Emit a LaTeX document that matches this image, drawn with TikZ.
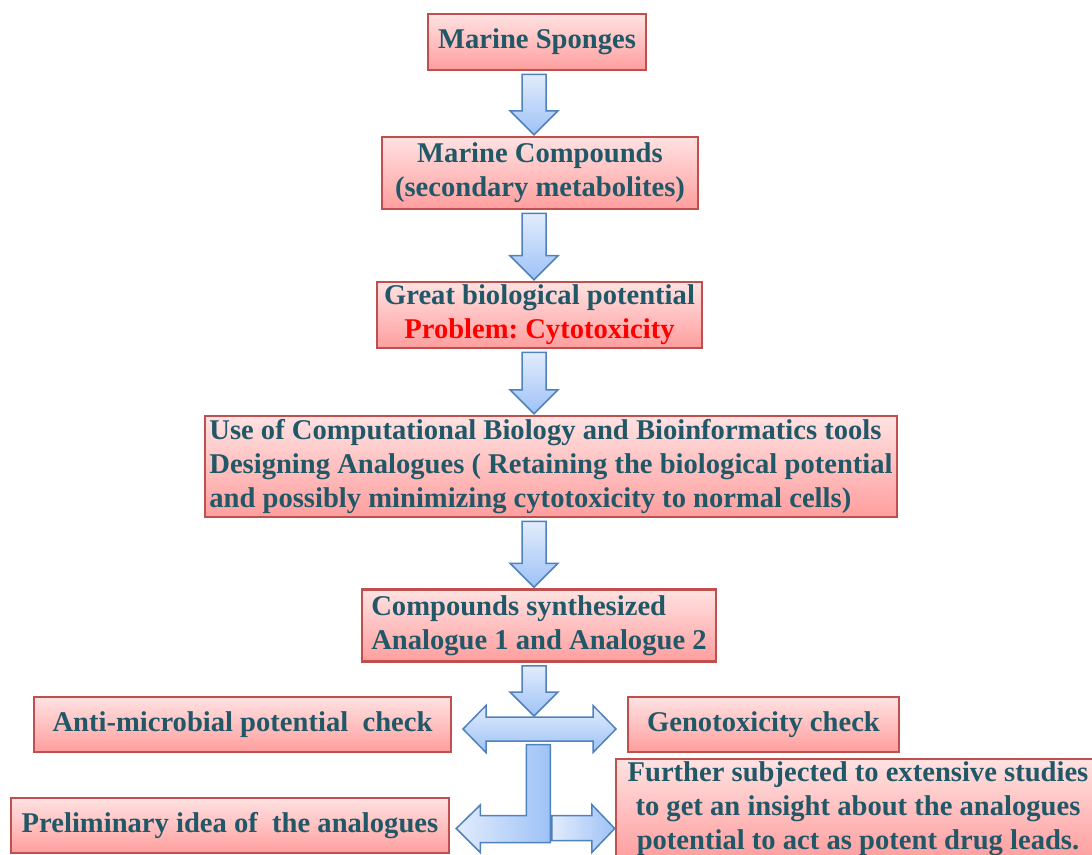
\documentclass[tikz,border=0pt]{standalone}
\usepackage{fontspec}
\setmainfont{Liberation Serif}
\usetikzlibrary{calc}
\definecolor{boxline}{RGB}{192,80,77}
\definecolor{boxtop}{RGB}{255,226,226}
\definecolor{boxbot}{RGB}{255,158,158}
\definecolor{arrline}{RGB}{79,129,189}
\definecolor{arrtop}{RGB}{226,236,252}
\definecolor{arrbot}{RGB}{158,194,246}
\definecolor{tealtext}{RGB}{33,88,104}
\frenchspacing

\begin{document}
\begin{tikzpicture}[x=1pt, y=-1pt,
    font=\bfseries\fontsize{28.6}{34}\selectfont,
    box/.style={draw=boxline, line width=2.5pt, top color=boxtop, bottom color=boxbot,
        text=tealtext, inner sep=3pt, align=center},
    blockarrow/.style={draw=arrline, line width=1.5pt, top color=arrtop, bottom color=arrbot},
    sidearrow/.style={draw=arrline, line width=1.5pt, left color=arrtop, right color=arrbot}]
    \useasboundingbox (0,0) rectangle (1092,854);
    \clip (0,0) rectangle (1092,854);

    % flow of boxes
    \node[box, minimum width=218pt, minimum height=56pt] (sponges) at (537,42) {Marine Sponges};
    \node[box, minimum width=316pt, minimum height=72pt] (compounds) at (540,173) {Marine Compounds\\(secondary metabolites)};
    \node[box, minimum width=325pt, minimum height=66pt] (potential) at (539.5,315)
        {Great biological potential\\\textcolor{red}{Problem: Cytotoxicity}};
    \node[box, align=left, minimum width=692pt, minimum height=101pt] (design) at (551,466.5)
        {Use of Computational Biology and Bioinformatics tools\\Designing Analogues ( Retaining the biological potential\\and possibly minimizing cytotoxicity to normal cells)};
    \node[box, align=left, minimum width=354pt, minimum height=72pt] (synth) at (539,625.5)
        {Compounds synthesized\\Analogue 1 and Analogue 2};

    % outcomes
    \node[box, minimum width=417pt, minimum height=55pt] (anti) at (242.5,724.5) {Anti-microbial potential\ \ check};
    \node[box, minimum width=271pt, minimum height=55pt] (geno) at (763.5,724.5) {Genotoxicity check};
    \node[box, minimum width=438pt, minimum height=55pt] (prelim) at (230,825.5) {Preliminary idea of\ \ the analogues};
    \node[box, minimum width=484pt, minimum height=98pt] (further) at (858,809)
        {Further subjected to extensive studies\\to get an insight about the analogues\\potential to act as potent drug leads.};

    % arrows
    \coordinate (split) at (539.5,729);
    \draw[blockarrow] ($(split)+(-76.5,0)$) -- ++(23,-23.5) -- ++(0,11.5) -- ++(107,0) -- ++(0,-11.5)
        -- ++(23,23.5) -- ++(-23,23.5) -- ++(0,-11.5) -- ++(-107,0) -- ++(0,11.5) -- cycle;
    \coordinate (ax) at (534,0);
    \coordinate (splittop) at ($(split)+(0,-12)$);
    \foreach \a/\b in {sponges.south/compounds.north, compounds.south/potential.north,
        potential.south/design.north, design.south/synth.north, synth.south/splittop} {
        \draw[blockarrow] ($(ax |- \a)+(-12,3)$) -- ($(ax |- \b)+(-12,-25)$) -- ++(-12,0)
            -- ($(ax |- \b)+(0,-1)$) -- ++(24,-24) -- ++(-12,0) -- ($(ax |- \a)+(12,3)$) -- cycle;
    }
    \coordinate (bendtip) at ($(prelim.east)+(6,3)$);
    \draw[sidearrow] (bendtip) -- ++(24,-23.5) -- ++(0,10.5) -- ++(46,0) -- ++(0,-71) -- ++(24,0)
        -- ++(0,98) -- ++(-70,0) -- ++(0,10) -- cycle;
    \coordinate (righttip) at (further.west |- bendtip);
    \draw[sidearrow] (righttip) -- ++(-23,-24) -- ++(0,11) -- ++(-40,0) -- ++(0,25) -- ++(40,0)
        -- ++(0,12) -- cycle;
\end{tikzpicture}
\end{document}
